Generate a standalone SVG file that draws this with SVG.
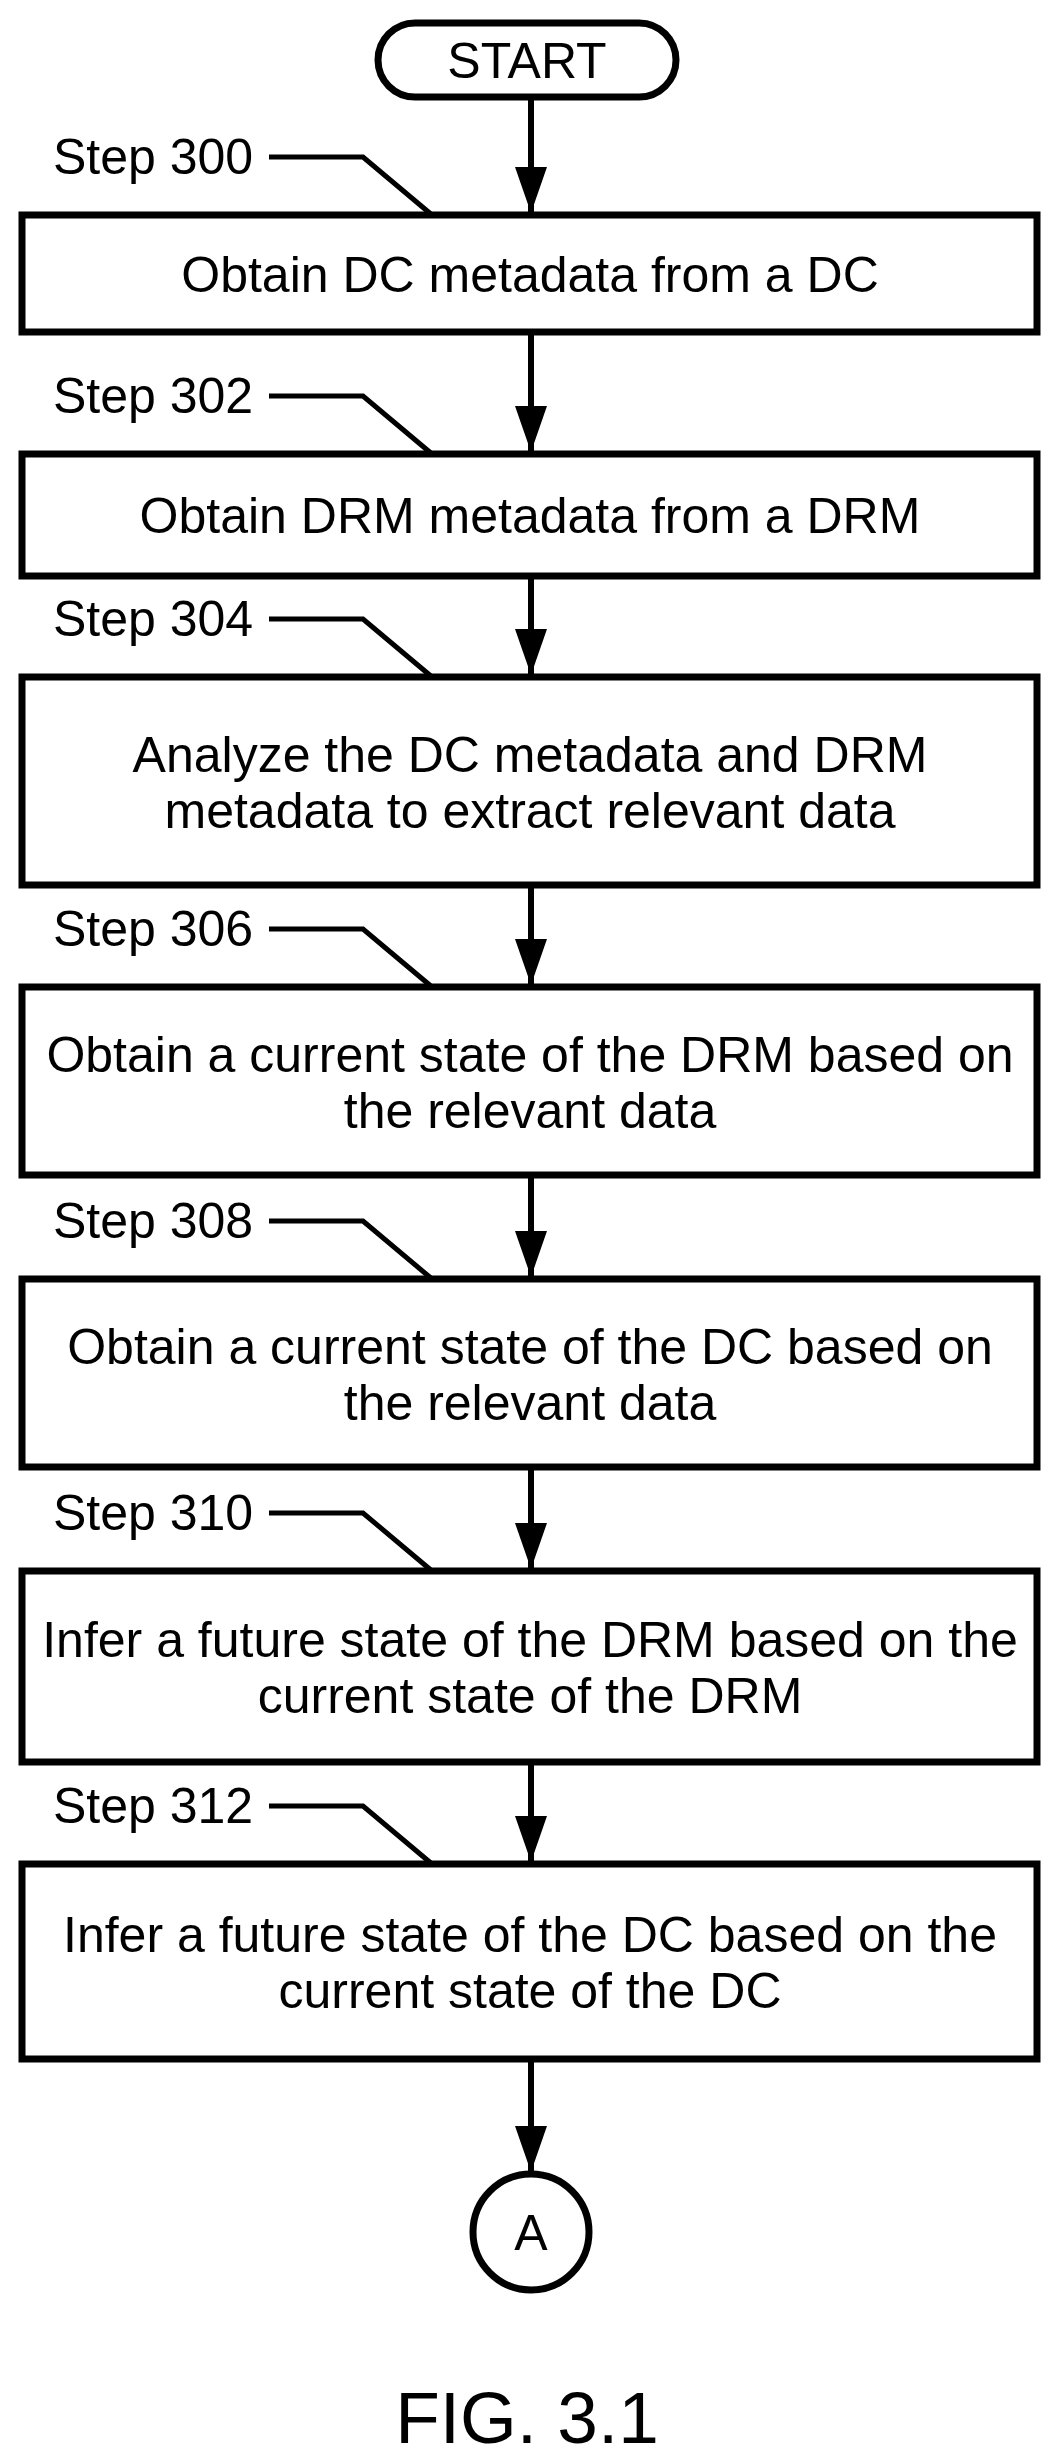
<svg xmlns="http://www.w3.org/2000/svg" width="1060" height="2462" viewBox="0 0 1060 2462">
<style>
text{font-family:"Liberation Sans",Arial,sans-serif;font-size:50px;fill:#000}
.c{text-anchor:middle}
.box{fill:#fff;stroke:#000;stroke-width:7}
.ln{fill:none;stroke:#000;stroke-width:6}
.ld{fill:none;stroke:#000;stroke-width:5}
</style>
<defs>
<marker id="a" markerUnits="userSpaceOnUse" markerWidth="46" markerHeight="32" refX="46" refY="16" orient="auto" viewBox="0 0 46 32"><path d="M0,0 L46,16 L0,32 Z" fill="#000"/></marker></defs>
<g id="connectors">
<line class="ln" x1="531" y1="97" x2="531" y2="213" marker-end="url(#a)"/>
<line class="ln" x1="531" y1="332" x2="531" y2="452" marker-end="url(#a)"/>
<line class="ln" x1="531" y1="576" x2="531" y2="675" marker-end="url(#a)"/>
<line class="ln" x1="531" y1="885" x2="531" y2="985" marker-end="url(#a)"/>
<line class="ln" x1="531" y1="1175" x2="531" y2="1277" marker-end="url(#a)"/>
<line class="ln" x1="531" y1="1467" x2="531" y2="1569" marker-end="url(#a)"/>
<line class="ln" x1="531" y1="1762" x2="531" y2="1862" marker-end="url(#a)"/>
<line class="ln" x1="531" y1="2059" x2="531" y2="2172" marker-end="url(#a)"/>
<polyline class="ld" points="269,157 363,157 432,215"/>
<polyline class="ld" points="269,396 363,396 432,454"/>
<polyline class="ld" points="269,619 363,619 432,677"/>
<polyline class="ld" points="269,929 363,929 432,987"/>
<polyline class="ld" points="269,1221 363,1221 432,1279"/>
<polyline class="ld" points="269,1513 363,1513 432,1571"/>
<polyline class="ld" points="269,1806 363,1806 432,1864"/>
</g>
<g id="start"><rect class="box" x="378" y="23" width="298" height="74" rx="37"/><text class="c" x="527" y="78">START</text></g>
<g id="s300"><text x="53" y="174">Step 300</text><rect class="box" x="22" y="215" width="1015" height="117"/><text class="c" x="530" y="292">Obtain DC metadata from a DC</text></g>
<g id="s302"><text x="53" y="413">Step 302</text><rect class="box" x="22" y="454" width="1015" height="122"/><text class="c" x="530" y="533">Obtain DRM metadata from a DRM</text></g>
<g id="s304"><text x="53" y="636">Step 304</text><rect class="box" x="22" y="677" width="1015" height="208"/><text class="c" x="530" y="772">Analyze the DC metadata and DRM</text><text class="c" x="530" y="828">metadata to extract relevant data</text></g>
<g id="s306"><text x="53" y="946">Step 306</text><rect class="box" x="22" y="987" width="1015" height="188"/><text class="c" x="530" y="1072">Obtain a current state of the DRM based on</text><text class="c" x="530" y="1128">the relevant data</text></g>
<g id="s308"><text x="53" y="1238">Step 308</text><rect class="box" x="22" y="1279" width="1015" height="188"/><text class="c" x="530" y="1364">Obtain a current state of the DC based on</text><text class="c" x="530" y="1420">the relevant data</text></g>
<g id="s310"><text x="53" y="1530">Step 310</text><rect class="box" x="22" y="1571" width="1015" height="191"/><text class="c" x="530" y="1657">Infer a future state of the DRM based on the</text><text class="c" x="530" y="1713">current state of the DRM</text></g>
<g id="s312"><text x="53" y="1823">Step 312</text><rect class="box" x="22" y="1864" width="1015" height="195"/><text class="c" x="530" y="1952">Infer a future state of the DC based on the</text><text class="c" x="530" y="2008">current state of the DC</text></g>
<g id="A"><circle class="box" cx="531" cy="2232" r="58"/><text class="c" x="531" y="2250">A</text></g>
<text class="c" x="527" y="2443" style="font-size:73px">FIG. 3.1</text>
</svg>
